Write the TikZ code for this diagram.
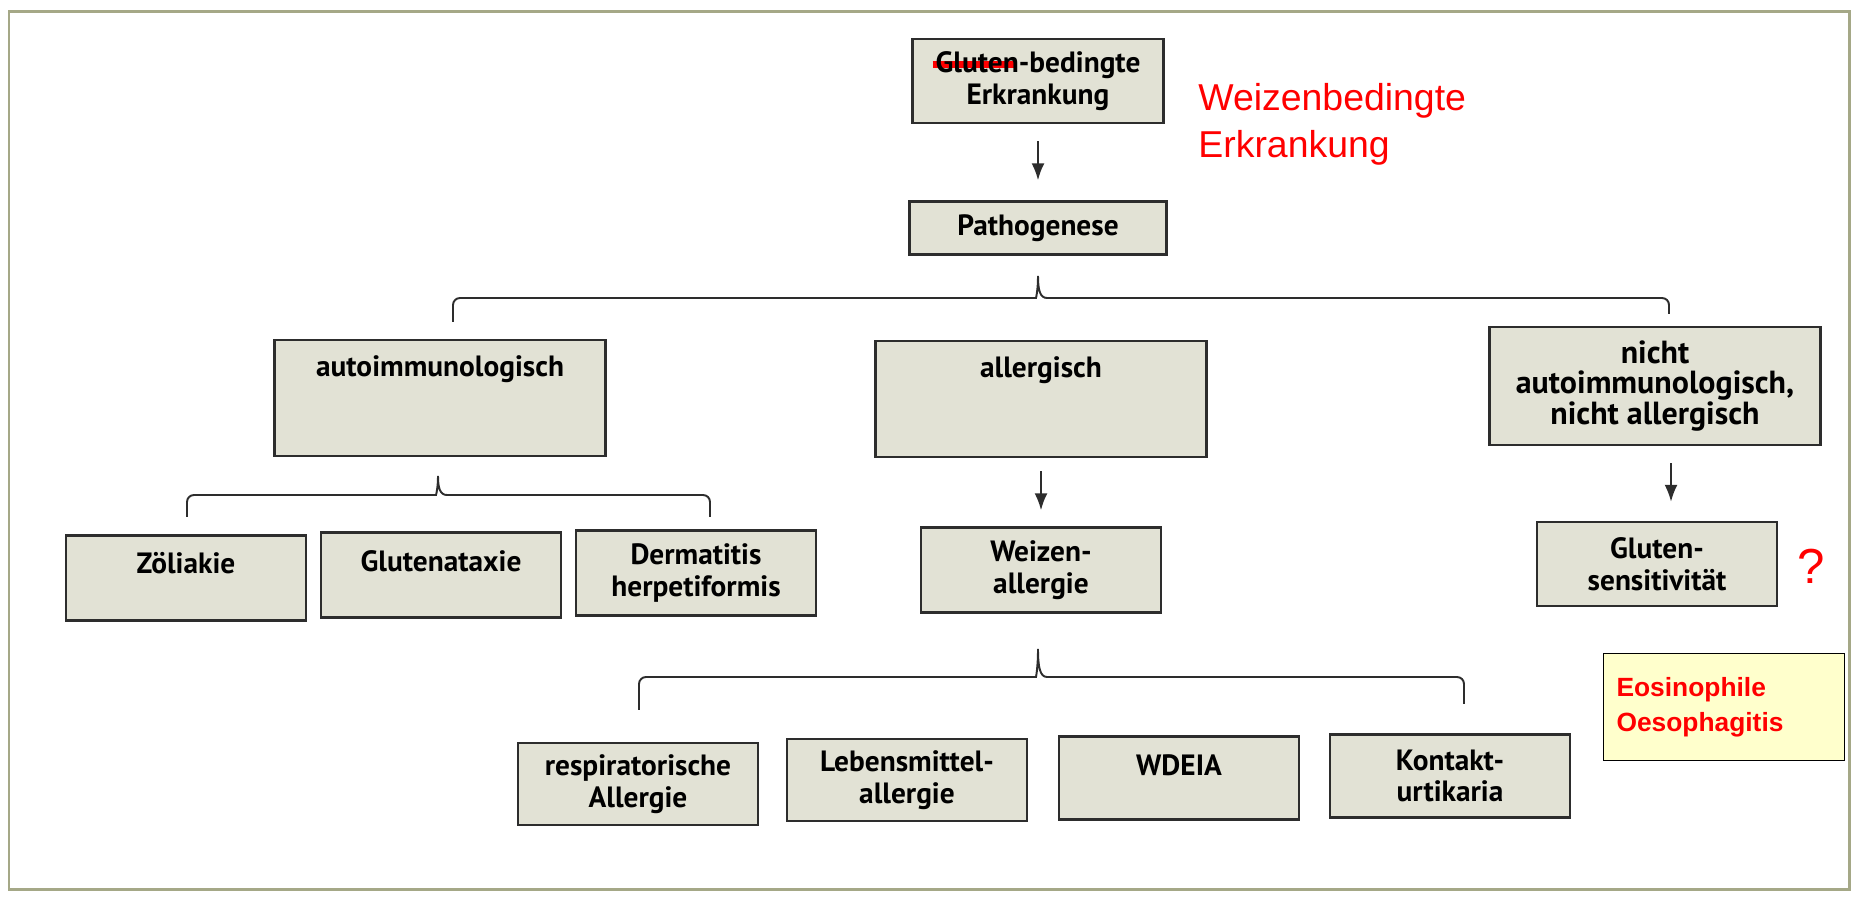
\documentclass[tikz,border=0pt]{standalone}
\usepackage{fontspec}
\setmainfont{PT Sans}
\newfontfamily\arialfont{Liberation Sans}
\usetikzlibrary{arrows.meta, calc}
\definecolor{boxfill}{RGB}{226,226,213}
\definecolor{boxline}{RGB}{45,45,45}
\definecolor{notefill}{RGB}{255,255,204}
\definecolor{framecol}{RGB}{165,168,135}
\newcommand{\struck}[1]{\makebox[0pt][l]{\hspace{-0.1em}\textcolor{red}{\rule[0.15em]{2.8em}{0.24em}}}#1}

\begin{document}
\begin{tikzpicture}[
    x=0.02cm, y=-0.02cm,
    box/.style={draw=boxline, fill=boxfill, line width=1.4pt, align=center, inner sep=0pt,
        font=\fontsize{16.7}{18}\selectfont\bfseries},
    leaf/.style={box, minimum width=4.8cm, minimum height=1.70cm},
    wide/.style={box, minimum width=6.62cm, minimum height=2.32cm},
    lift/.style={text height=0.38cm, text depth=#1},
    arr/.style={-{Latex[length=0.34cm, width=0.26cm]}, line width=1.1pt, draw=boxline},
    brk/.style={line width=1.1pt, draw=boxline},
    redtxt/.style={text=red, align=left, inner sep=0pt}
]
\useasboundingbox (0,0) rectangle (1856,901);
\draw[framecol, line width=0.06cm] (9,12) rectangle (1849,889);

% --- Kopf ---
\node[box, minimum width=5.02cm, minimum height=1.68cm] (top) at (1038,81) {\struck{Gluten}-bedingte\\Erkrankung};
\node[box, minimum width=5.14cm, minimum height=1.06cm] (patho) at (1038,228) {Pathogenese};
\node[redtxt, anchor=west, font=\arialfont\fontsize{21.3}{26.6}\selectfont] (weizred) at (1198,124) {Weizenbedingte\\Erkrankung};

% --- Pathogenese-Gruppen ---
\node[wide, lift=1.26cm] (auto) at (440,398) {autoimmunologisch};
\node[wide, lift=1.26cm] (allerg) at (1041,399) {allergisch};
\node[wide, minimum height=2.36cm, font=\fontsize{18.2}{17.3}\selectfont\bfseries] (nicht) at (1655,386) {nicht\\autoimmunologisch,\\nicht allergisch};

% --- Krankheitsbilder ---
\node[leaf, lift=0.54cm] (zoel) at (186,578) {Zöliakie};
\node[leaf, lift=0.54cm] (glut) at (441,575) {Glutenataxie};
\node[leaf] (derm) at (696,573) {Dermatitis\\herpetiformis};
\node[leaf] (weiz) at (1041,570) {Weizen-\\allergie};
\node[leaf, minimum height=1.68cm] (gsens) at (1657,564) {Gluten-\\sensitivität};
\node[redtxt, font=\arialfont\fontsize{28}{30}\selectfont] (frage) at (1811,566) {?};

% --- Weizenallergie ---
\node[leaf, minimum height=1.64cm] (resp) at (638,784) {respiratorische\\Allergie};
\node[leaf, minimum height=1.64cm] (lebe) at (907,780) {Lebensmittel-\\allergie};
\node[leaf, minimum height=1.66cm, lift=0.48cm] (wdeia) at (1179,778) {WDEIA};
\node[leaf, minimum height=1.66cm] (kont) at (1450,776) {Kontakt-\\urtikaria};

% --- Notiz ---
\node[draw=black, fill=notefill, line width=1pt, minimum height=2.14cm, text width=4.3cm,
      inner xsep=0.26cm, align=left, text=red,
      font=\arialfont\bfseries\fontsize{15}{20}\selectfont] (eos) at (1724,707) {Eosinophile\\Oesophagitis};

% --- Pfeile ---
\path
(top) edge[arr, shorten <=0.34cm, shorten >=0.4cm] (patho)
(allerg) edge[arr, shorten <=0.26cm, shorten >=0.32cm] (weiz)
($(nicht.south)+(16,0)$) edge[arr, shorten <=0.34cm, shorten >=0.38cm] ($(gsens.north)+(14,0)$);

% --- Klammern ---
\coordinate (k1l) at (453,322);
\coordinate (k1m) at (1038,276);
\coordinate (k1r) at (1669,314);
\coordinate (k2l) at (187,517);
\coordinate (k2m) at (438,476);
\coordinate (k2r) at (710,517);
\coordinate (k3l) at (639,710);
\coordinate (k3m) at (1038,649);
\coordinate (k3r) at (1464,704);

\draw[brk] (k1l) [rounded corners=0.14cm] |- ($(k1m)+(-9,22)$) [sharp corners]
    .. controls ($(k1m)+(-2,22)$) and ($(k1m)+(0,14)$) .. (k1m)
    .. controls ($(k1m)+(0,14)$) and ($(k1m)+(2,22)$) .. ($(k1m)+(9,22)$)
    [rounded corners=0.14cm] -| (k1r);
\draw[brk] (k2l) [rounded corners=0.14cm] |- ($(k2m)+(-9,19)$) [sharp corners]
    .. controls ($(k2m)+(-2,19)$) and ($(k2m)+(0,12)$) .. (k2m)
    .. controls ($(k2m)+(0,12)$) and ($(k2m)+(2,19)$) .. ($(k2m)+(9,19)$)
    [rounded corners=0.14cm] -| (k2r);
\draw[brk] (k3l) [rounded corners=0.14cm] |- ($(k3m)+(-9,28)$) [sharp corners]
    .. controls ($(k3m)+(-2,28)$) and ($(k3m)+(0,18)$) .. (k3m)
    .. controls ($(k3m)+(0,18)$) and ($(k3m)+(2,28)$) .. ($(k3m)+(9,28)$)
    [rounded corners=0.14cm] -| (k3r);

\end{tikzpicture}
\end{document}
